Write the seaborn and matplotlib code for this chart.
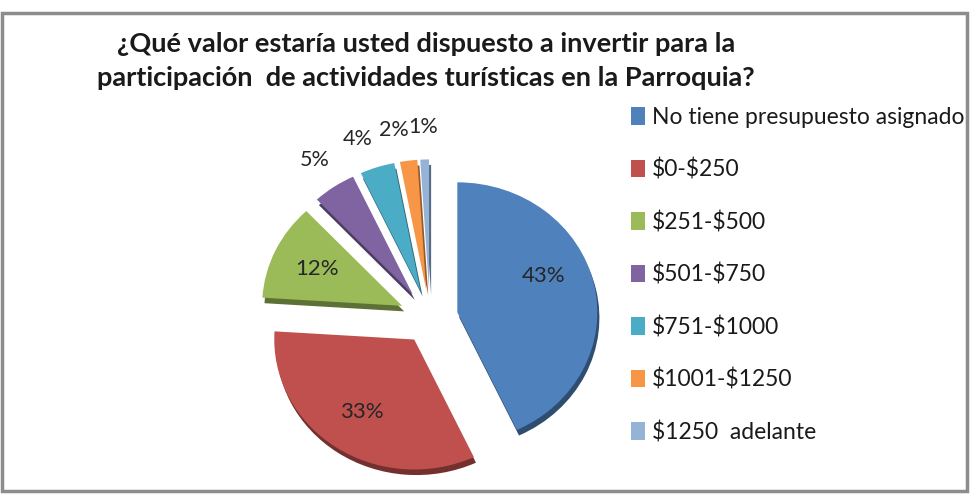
import matplotlib
matplotlib.use("Agg")
import matplotlib.pyplot as plt
import matplotlib.patheffects as pe
from matplotlib.patches import Rectangle, Patch
import numpy as np
import seaborn as sns

title = "¿Qué valor estaría usted dispuesto a invertir para la\nparticipación  de actividades turísticas en la Parroquia?"
categories = ["No tiene presupuesto asignado", "$0-$250", "$251-$500", "$501-$750",
              "$751-$1000", "$1001-$1250", "$1250  adelante"]
values = [43, 33, 12, 5, 4, 2, 1]
colors = ["#4F81BD", "#C0504D", "#9BBB59", "#8064A2", "#4BACC6", "#F79646", "#95B3D7"]
explode = [0.2, 0.2, 0.22, 0.22, 0.22, 0.22, 0.22]
label_nudge_deg = [9, 0, 0, 0, 2.5, 3, 0]

sns.set_theme(style="white")
plt.rcParams['font.family'] = ['Lato', 'DejaVu Sans']

W, H = 974, 498
fig = plt.figure(figsize=(W / 100, H / 100), dpi=100)

# pie axes: centre at (430, 318) px, rx=140px, ry=130px per unit
cx, cy = 430, 318
rx, ry = 140, 130
xl, yl = 1.4, 1.35
aw, ah = 2 * xl * rx, 2 * yl * ry
ax = fig.add_axes([(cx - aw / 2) / W, (H - cy - ah / 2) / H, aw / W, ah / H])

def darker(c, f=0.6):
    r, g, b = matplotlib.colors.to_rgb(c)
    return (r * f, g * f, b * f)

wedges, texts, autotexts = ax.pie(
    values, colors=colors, explode=explode, startangle=90, counterclock=False,
    autopct="%d%%", pctdistance=0.68,
    textprops=dict(fontsize=16, color="#262626"),
    wedgeprops=dict(linewidth=0))
ax.set_aspect("auto")
ax.set_xlim(-xl, xl)
ax.set_ylim(-yl, yl)
ax.axis("off")

for w, c in zip(wedges, colors):
    w.set_path_effects([pe.SimplePatchShadow(offset=(1.5, -4), shadow_rgbFace=darker(c), alpha=1.0),
                        pe.Normal()])

for w, t, v, e, nd in zip(wedges, autotexts, values, explode, label_nudge_deg):
    mid = (w.theta1 + w.theta2) / 2 + nd
    ang = np.deg2rad(mid)
    r = e + (0.67 if v >= 10 else 1.25)
    t.set_position((r * np.cos(ang), r * np.sin(ang)))
    t.set_ha("center")
    t.set_va("center")
    if v < 10:
        t.set_fontsize(15.5)

fig.text(426 / W, 1 - 61 / H, title, ha="center", va="center", fontsize=19.5,
         fontweight="bold", linespacing=1.52, color="#1a1a1a")

handles = [Patch(facecolor=c, edgecolor="none") for c in colors]
labels = [c.replace("$", r"\$") for c in categories]
leg = fig.legend(handles, labels, loc="upper left",
                 bbox_to_anchor=(622 / W, 1 - 98 / H), frameon=False,
                 fontsize=16.5, handlelength=0.62, handleheight=0.8,
                 handletextpad=0.3, labelspacing=1.33, borderaxespad=0)
for t in leg.get_texts():
    t.set_color("#1a1a1a")

fig.patches.append(Rectangle((1.5 / W, (H - 491) / H), (967 - 1.5) / W, (491 - 13) / H,
                             transform=fig.transFigure, fill=False,
                             edgecolor="#8c8c8c", linewidth=2.5))

fig.savefig("out.png", dpi=100)
